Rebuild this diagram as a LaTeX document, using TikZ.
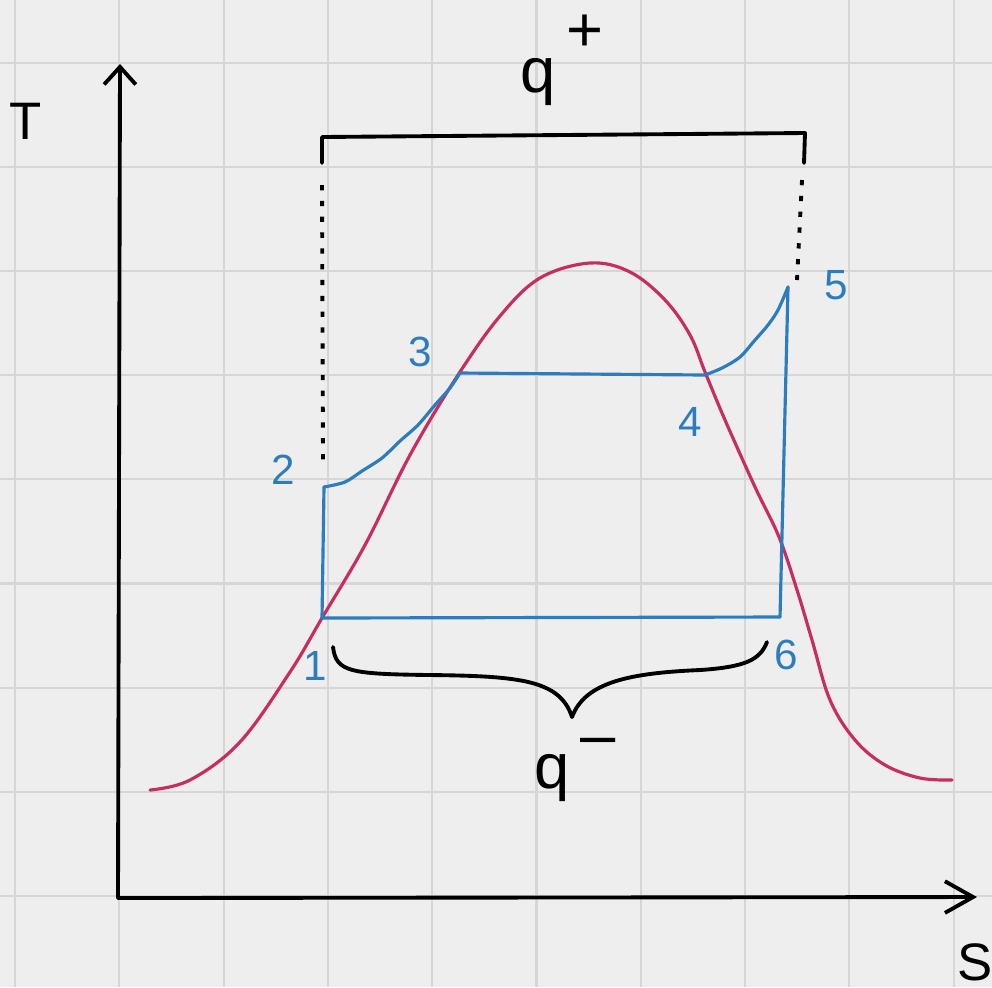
\documentclass[tikz,border=0pt]{standalone}
\usepackage{fontspec}
\setmainfont{Liberation Sans}
\usetikzlibrary{arrows.meta}
\definecolor{paper}{RGB}{238,238,238}
\definecolor{gridgray}{RGB}{214,214,214}
\definecolor{domered}{RGB}{200,45,95}
\definecolor{cycleblue}{RGB}{45,125,190}
\begin{document}
\begin{tikzpicture}[
        x=0.01cm, y=-0.01cm,
        gridline/.style={gridgray, line width=0.6pt},
        axis/.style={line width=1.1pt, line cap=round, -{Straight Barb[length=5pt, width=9pt, line width=1.1pt]}},
        hand/.style={line width=1.1pt, line cap=round, line join=round},
        dots/.style={line width=1.1pt, dash pattern=on 1.5pt off 3pt},
        dome/.style={domered, line width=0.9pt, line cap=round},
        cyc/.style={cycleblue, line width=0.9pt, line cap=round, line join=round},
        num/.style={cycleblue, font=\fontsize{12}{14}\selectfont},
        big/.style={font=\fontsize{18}{20}\selectfont, inner sep=1pt}
    ]
        % Paper and grid
        \fill[paper] (0,0) rectangle (992,987);
        \useasboundingbox (0,0) rectangle (992,987);
        \foreach \i in {0,...,9} \draw[gridline] ({15+104.3*\i},0) -- ++(0,987);
        \foreach \j in {0,...,8} \draw[gridline] (0,{63+104.1*\j}) -- ++(992,0);

        % Axes
        \coordinate (origin) at (118,898);
        \coordinate (tend) at (120,64);
        \coordinate (send) at (977,897);
        \draw[axis] (origin) -- (tend);
        \draw[axis, -{Straight Barb[length=8pt, width=9pt, line width=1.1pt]}] (origin) -- (send);
        \node[font=\fontsize{15}{16}\selectfont] (tlabel) at (26,121) {T};
        \node[font=\fontsize{15}{16}\selectfont] (slabel) at (975,962) {S};

        % Saturation dome
        \draw[dome] plot[smooth, tension=0.6] coordinates {(150,790) (190,780) (240,742) (290,672) (322,618) (365,545)
            (410,455) (458,375) (500,316) (540,278) (590,263) (630,272) (665,300) (690,335) (705,372)
            (725,420) (755,487) (779,537) (797,590) (812,640) (830,700) (855,740) (885,765) (920,778) (952,780)};

        % Cycle points
        \coordinate (p1) at (322,618);
        \coordinate (p2) at (324,487);
        \coordinate (p3) at (460,373);
        \coordinate (p4) at (705,375);
        \coordinate (p5) at (788,287);
        \coordinate (p6) at (780,617);

        % Cycle
        \draw[cyc] (p6) -- (p1) -- (p2);
        \draw[cyc] plot[smooth, tension=0.5] coordinates {(p2) (345,482) (362,471) (382,458) (400,441) (418,425) (435,405) (450,388) (p3)};
        \draw[cyc] (p3) -- (p4);
        \draw[cyc] plot[smooth, tension=0.5] coordinates {(p4) (722,368) (740,357) (755,340) (768,325) (778,310) (p5)};
        \draw[cyc] (p5) -- (p6);

        \node[num] (n1) at (315,666) {1};
        \node[num] (n2) at (283,470) {2};
        \node[num] (n3) at (420,352) {3};
        \node[num] (n4) at (690,422) {4};
        \node[num] (n5) at (836,285) {5};
        \node[num] (n6) at (786,655) {6};

        % Heat in
        \coordinate (b1) at (322,163);
        \coordinate (b2) at (322,137);
        \coordinate (b3) at (805,133);
        \coordinate (b4) at (804,163);
        \draw[hand] (b1) -- (b2) -- (b3) -- (b4);
        \draw[dots] (322,185) -- (323,462);
        \draw[dots] (802,180) -- (797,280);
        \node[big] (qin) at (562,60) {q\,\raisebox{0.65em}{+}};

        % Heat out
        \coordinate (c1) at (333,647);
        \coordinate (c2) at (572,717);
        \coordinate (c3) at (767,642);
        \draw[hand] (c1) .. controls (336,672) and (350,674) .. (430,675)
            .. controls (520,676) and (560,680) .. (c2)
            .. controls (585,682) and (630,673) .. (700,670)
            .. controls (745,667) and (760,660) .. (c3);
        \node[big] (qout) at (575,770) {q\,\raisebox{0.5em}{–}};

    \end{tikzpicture}
\end{document}
